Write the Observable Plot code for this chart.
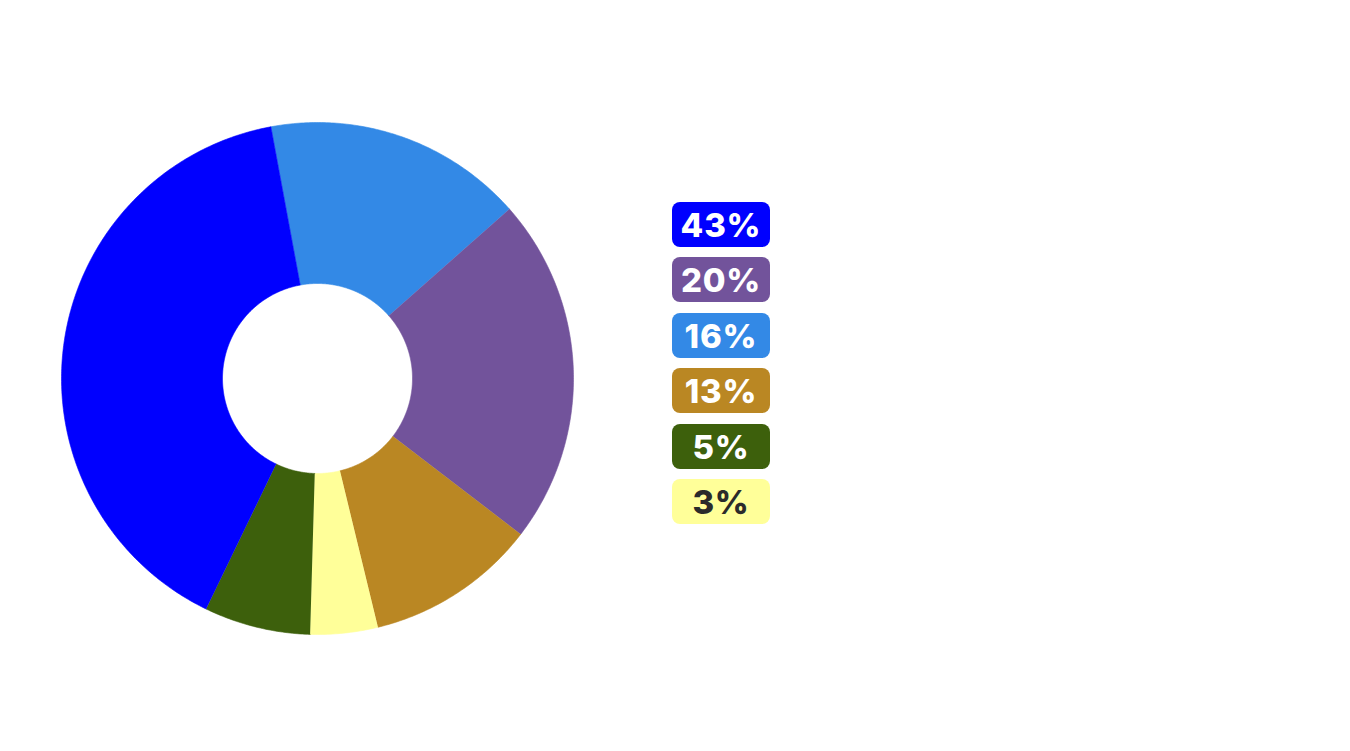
<!DOCTYPE html>
<html>
<head>
<meta charset="utf-8">
<script src="https://cdn.jsdelivr.net/npm/d3@7"></script>
<script src="https://cdn.jsdelivr.net/npm/@observablehq/plot@0.6"></script>
<style>
  html, body { margin: 0; padding: 0; background: #fff; }
  #wrap { position: relative; width: 1350px; height: 751px; overflow: hidden; }
  #chart svg { display: block; }
  #legend { position: absolute; left: 672px; top: 202px; }
  .item {
    width: 98px; height: 45px; border-radius: 8px; margin-bottom: 10.4px;
    font-family: Inter, "Open Sans", sans-serif; font-weight: 800; font-size: 33px;
    line-height: 46px; text-align: center; letter-spacing: 0.8px;
  }
</style>
</head>
<body>
<div id="wrap">
  <div id="chart"></div>
  <div id="legend"></div>
</div>
<script>
// Legend labels (ranked) and colours
const labels = ["43%", "20%", "16%", "13%", "5%", "3%"];
const colors = ["#0000ff", "#72539b", "#3389e6", "#ba8723", "#3d600c", "#ffff99"];
const textColors = ["#ffffff", "#ffffff", "#ffffff", "#ffffff", "#ffffff", "#2b2b2b"];
// Slice shares (percent of the ring), same order as labels
const shares = [39.9, 21.9, 16.4, 10.8, 6.7, 4.25];
// Clockwise order of the slices around the ring, starting at the start angle
const ringOrder = ["16%", "20%", "13%", "3%", "5%", "43%"];
const startAngleDeg = -10.5;
const innerRatio = 95 / 256;

// Build polygons for the donut slices
const shareOf = new Map(labels.map((l, i) => [l, shares[i]]));
const total = d3.sum(shares);
const rows = [];
let a = startAngleDeg * Math.PI / 180;
for (const lab of ringOrder) {
  const span = shareOf.get(lab) / total * 2 * Math.PI;
  const a0 = a, a1 = a + span;
  const n = Math.max(8, Math.ceil(span / 0.01));
  for (let k = 0; k <= n; k++) {
    const t = a0 + (a1 - a0) * k / n;
    rows.push({label: lab, x: Math.sin(t), y: Math.cos(t)});
  }
  for (let k = n; k >= 0; k--) {
    const t = a0 + (a1 - a0) * k / n;
    rows.push({label: lab, x: innerRatio * Math.sin(t), y: innerRatio * Math.cos(t)});
  }
  a = a1;
}

const cx = 317, cy = 378, R = 256;
const chart = Plot.plot({
  width: 1350,
  height: 751,
  margin: 0,
  x: {domain: [-1, 1], range: [cx - R, cx + R], axis: null},
  y: {domain: [-1, 1], range: [cy + R, cy - R], axis: null},
  color: {domain: labels, range: colors},
  marks: [
    Plot.line(rows, {x: "x", y: "y", z: "label", fill: "label", stroke: "label", strokeWidth: 0.6, curve: "linear"})
  ]
});
document.getElementById("chart").appendChild(chart);

const legend = d3.select("#legend");
labels.forEach((l, i) => {
  legend.append("div").attr("class", "item")
    .style("background", colors[i])
    .style("color", textColors[i])
    .text(l);
});
</script>
</body>
</html>
